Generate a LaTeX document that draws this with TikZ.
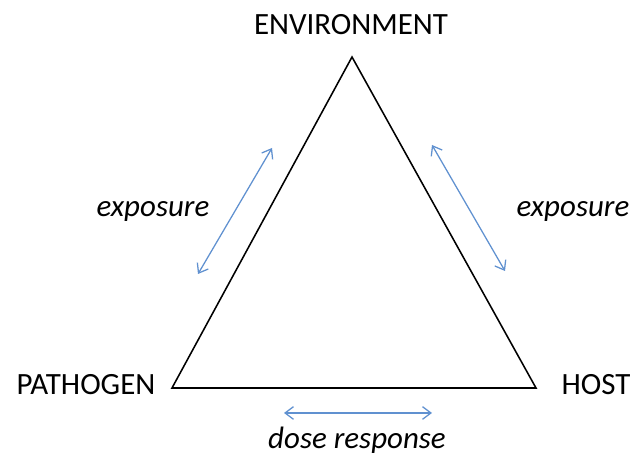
\documentclass[tikz,border=0pt]{standalone}
\usepackage{fontspec}
\setmainfont{Carlito}
\usetikzlibrary{arrows.meta}
\definecolor{linkblue}{RGB}{96,145,208}
\tikzstyle{corner}=[font=\fontsize{22}{26}\selectfont, inner sep=0pt]
\tikzstyle{link}=[font=\fontsize{22}{26}\selectfont\itshape, inner sep=0pt]
\tikzstyle{dlink}=[{Straight Barb[length=6pt,width=9pt]}-{Straight Barb[length=6pt,width=9pt]}, draw=linkblue, line width=0.9pt]

\begin{document}
\begin{tikzpicture}[x=0.025cm, y=-0.025cm]
\useasboundingbox (0,0) rectangle (634,457);
\coordinate (E) at (352,57);
\coordinate (P) at (172,388);
\coordinate (H) at (536,388);
\draw[line width=1.1pt, line join=miter](E)--(P)--(H)--cycle;
\node[corner] (env) at (351,25) {ENVIRONMENT};
\node[corner] (pat) at (86,385) {PATHOGEN};
\node[corner] (host) at (596,385) {HOST};
\coordinate (l1) at (272,148);
\coordinate (l2) at (198,274);
\coordinate (r1) at (432,145);
\coordinate (r2) at (505,271);
\coordinate (b1) at (284,413);
\coordinate (b2) at (432,413);
\draw[dlink](l1)--(l2);
\draw[dlink](r1)--(r2);
\draw[dlink](b1)--(b2);
\node[link] (expl) at (153,211) {exposure};
\node[link] (expr) at (573,211) {exposure};
\node[link] (dose) at (357,440) {dose response};
\end{tikzpicture}
\end{document}
